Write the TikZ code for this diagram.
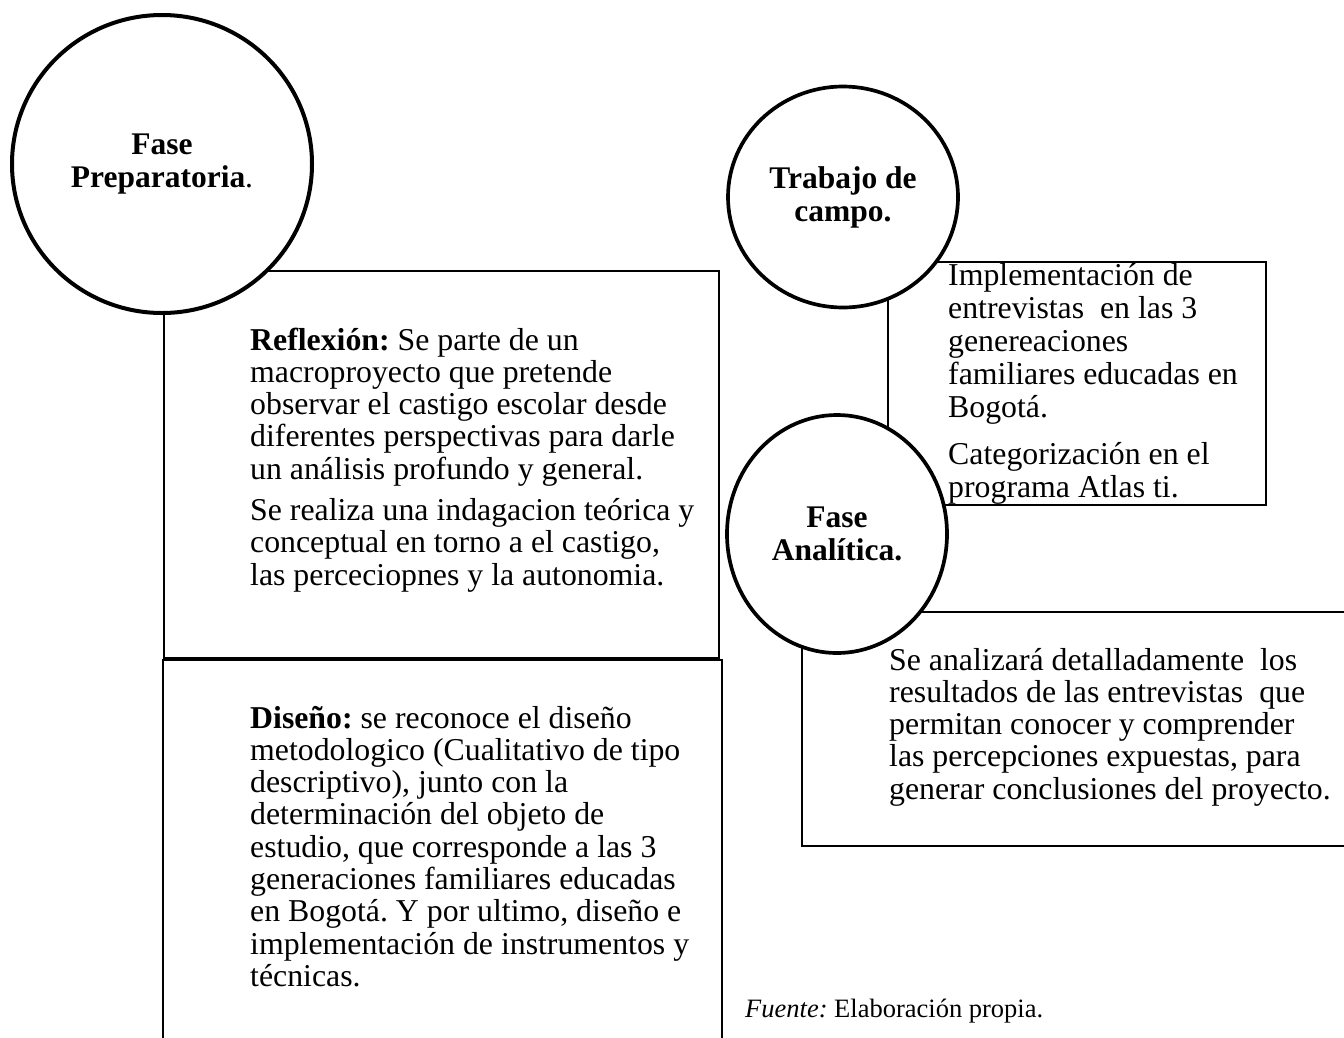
\documentclass[tikz,border=0pt]{standalone}
\usepackage{fontspec}
\setmainfont{Liberation Serif}
\usetikzlibrary{shapes.geometric}
\newcommand\tline[1]{\hbox{#1}}
\frenchspacing
\begin{document}
\begin{tikzpicture}[x=1pt,y=-1pt,
  box/.style={draw, line width=1.6pt, rectangle, inner sep=0pt, anchor=north west},
  phase/.style={draw, line width=3.7pt, ellipse, fill=white, inner sep=0pt, align=center,
    font=\fontsize{31.5}{33}\selectfont\bfseries},
  body/.style={inner sep=0pt, anchor=base west, font=\fontsize{31.8}{32.3}\selectfont},
  bodyr/.style={inner sep=0pt, anchor=base west, font=\fontsize{31.8}{33}\selectfont}]
\useasboundingbox (0,0) rectangle (1344,1037);
\clip (0,0) rectangle (1344,1037);
% boxes
\node[box, minimum width=555pt, minimum height=387pt] (reflbox) at (163,270) {};
\node[box, minimum width=559pt, minimum height=500pt] (disbox) at (162,659) {};
\node[box, minimum width=378pt, minimum height=243pt] (implbox) at (887,261) {};
\node[box, minimum width=600pt, minimum height=234pt] (analbox) at (801,611) {};
% circles
\node[phase, line width=4pt, minimum width=300pt, minimum height=298pt] (prep) at (162,164) {Fase\\Preparatoria\textmd{.}};
\node[phase, minimum width=230pt, minimum height=221pt] (campo) at (843,197) {Trabajo de\\campo.};
\node[phase, minimum width=220pt, minimum height=238pt] (anal) at (837,534) {Fase\\Analítica.};
% texts
\node[body] (refltext) at (250,350) {\vtop{%
\tline{\textbf{Reflexión:} Se parte de un}
\tline{macroproyecto que pretende}
\tline{observar el castigo escolar desde}
\tline{diferentes perspectivas para darle}
\tline{un análisis profundo y general.}
\vskip9pt
\tline{Se realiza una indagacion teórica y}
\tline{conceptual en torno a el castigo,}
\tline{las perceciopnes y la autonomia.}}};
\node[body] (distext) at (250,728) {\vtop{%
\tline{\textbf{Diseño:} se reconoce el diseño}
\tline{metodologico (Cualitativo de tipo}
\tline{descriptivo), junto con la}
\tline{determinación del objeto de}
\tline{estudio, que corresponde a las 3}
\tline{generaciones familiares educadas}
\tline{en Bogotá. Y por ultimo, diseño e}
\tline{implementación de instrumentos y}
\tline{técnicas.}}};
\node[bodyr] (impltext) at (948,285) {\vtop{%
\tline{Implementación de}
\tline{entrevistas\ \ en las 3}
\tline{genereaciones}
\tline{familiares educadas en}
\tline{Bogotá.}
\vskip14pt
\tline{Categorización en el}
\tline{programa Atlas ti.}}};
\node[body] (analtext) at (889,670) {\vtop{%
\tline{Se analizará detalladamente\ \ los}
\tline{resultados de las entrevistas\ \ que}
\tline{permitan conocer y comprender}
\tline{las percepciones expuestas, para}
\tline{generar conclusiones del proyecto.}}};
\node[inner sep=0pt, anchor=base west, font=\fontsize{26.5}{30}\selectfont] (fuente) at (745,1017) {\textit{Fuente:} Elaboración propia.};
\end{tikzpicture}
\end{document}
